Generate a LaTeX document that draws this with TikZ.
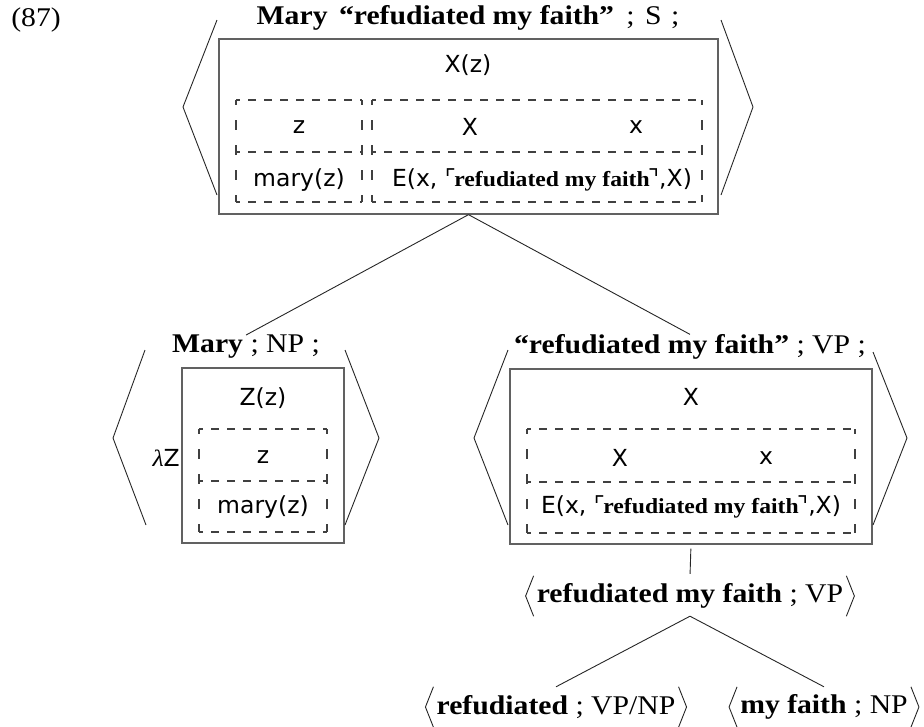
\documentclass[tikz,border=0pt]{standalone}
\usepackage{fontspec}
\setmainfont{Liberation Serif}[FakeStretch=1.1]
\newfontfamily\sansf{DejaVu Sans}

% dashed sub-box with one dividing line at height #5
\newcommand\dashpanel[5]{%
  \draw[dh] (#1,#2) -- (#3,#2);
  \draw[dh] (#1,#5) -- (#3,#5);
  \draw[dh] (#1,#4) -- (#3,#4);
  \draw[dv] (#1,#2) -- (#1,#4);
  \draw[dv] (#3,#2) -- (#3,#4);
}
% quasi-quoted expression inside a condition
\newcommand\quoted[1]{{\sansf ⌜}\kern-1.5pt{\rmfamily\bfseries\fontsize{21.5}{25}\selectfont #1}\kern-1.5pt{\sansf ⌝}}

\begin{document}
\begin{tikzpicture}[x=1pt,y=-1pt,
  lbl/.style={font=\fontsize{27}{32}\selectfont, inner sep=0pt},
  sem/.style={font=\sansf\fontsize{23.5}{28}\selectfont, inner sep=0pt},
  frame/.style={draw=black!62, line width=1.3pt, inner sep=0pt},
  dh/.style={draw=black!75, line width=1.05pt, dash pattern=on 8pt off 8pt, dash phase=4pt},
  dv/.style={draw=black!75, line width=1.05pt, dash pattern=on 10pt off 15pt, dash phase=5pt},
  brk/.style={draw=black!85, line width=0.9pt},
  edge/.style={draw=black!85, line width=0.9pt},
  pair/.style={lbl, minimum height=40pt}]
\useasboundingbox (0,0) rectangle (924,726);

% example number
\node[lbl] (num) at (36,20) {(87)};

% ---- sentence level ----
\node[lbl] (labS) at (468,18) {\textbf{Mary\ \kern4pt“refudiated my faith”}\ \kern5pt;\ \kern3pt S\ \kern2pt;};
\node[frame, minimum width=499pt, minimum height=175pt] (boxS) at (468.5,126.5) {};
\draw[brk] (217,20) -- (183,107) -- (217,195);
\draw[brk] (721,20) -- (753,107) -- (721,195);
\node[sem] (sXz) at (468,65) {X(z)};
\dashpanel{236}{100}{362}{202}{152}
\dashpanel{372}{100}{702}{202}{152}
\node[sem] (sz) at (299,127) {z};
\node[sem] (smary) at (299,180) {mary(z)};
\node[sem] (sX) at (470,127) {X};
\node[sem] (sx) at (636,127) {x};
\node[sem] (sE) at (542,180) {E(x, \quoted{refudiated my faith},X)};

% ---- subject NP ----
\node[lbl] (labNP) at (246,347) {\textbf{Mary} ; NP ;};
\node[frame, minimum width=162pt, minimum height=175pt] (boxNP) at (263,455.5) {};
\draw[brk] (145,350) -- (113,438) -- (146,525);
\draw[brk] (345,350) -- (379,438) -- (345,525);
\node[sem] (nZz) at (263,398) {Z(z)};
\node[sem, anchor=east] (nlam) at (180,458) {{\rmfamily\itshape λ}Z};
\dashpanel{199}{429}{327}{532}{481}
\node[sem] (nz) at (263,457) {z};
\node[sem] (nmary) at (263,507) {mary(z)};

% ---- VP ----
\node[lbl] (labVP) at (690,347) {\textbf{“refudiated my faith”} ; VP ;};
\node[frame, minimum width=362pt, minimum height=175pt] (boxVP) at (691,456.5) {};
\draw[brk] (508,350) -- (474,438) -- (508,525);
\draw[brk] (873,352) -- (907,438) -- (873,525);
\node[sem] (vX) at (691,397) {X};
\dashpanel{527}{429}{855}{533}{482}
\node[sem] (vX2) at (620,458) {X};
\node[sem] (vx) at (766,458) {x};
\node[sem] (vE) at (691,507) {E(x, \quoted{refudiated my faith},X)};

% ---- syntactic pairs ----
\node[pair] (pVP) at (690,596) {\textbf{refudiated my faith} ; VP};
\node[pair] (pV) at (556,707) {\textbf{refudiated} ; VP/NP};
\node[pair] (pNP) at (824,707) {\textbf{my faith} ; NP};
\foreach \n in {pVP,pV,pNP}{
  \draw[brk] ([xshift=-3pt]\n.north west) -- ([xshift=-11pt]\n.west) -- ([xshift=-3pt]\n.south west);
  \draw[brk] ([xshift=3pt]\n.north east) -- ([xshift=11pt]\n.east) -- ([xshift=3pt]\n.south east);
}

% ---- tree edges ----
\draw[edge] (boxS.south) -- (labNP.north);
\draw[edge] (boxS.south) -- (labVP.north);
\draw[edge, shorten <=4pt, shorten >=2pt] (boxVP.south) -- (pVP.north);
\draw[edge] (pVP.south) -- (pV.north);
\draw[edge] (pVP.south) -- (pNP.north);
\end{tikzpicture}
\end{document}
